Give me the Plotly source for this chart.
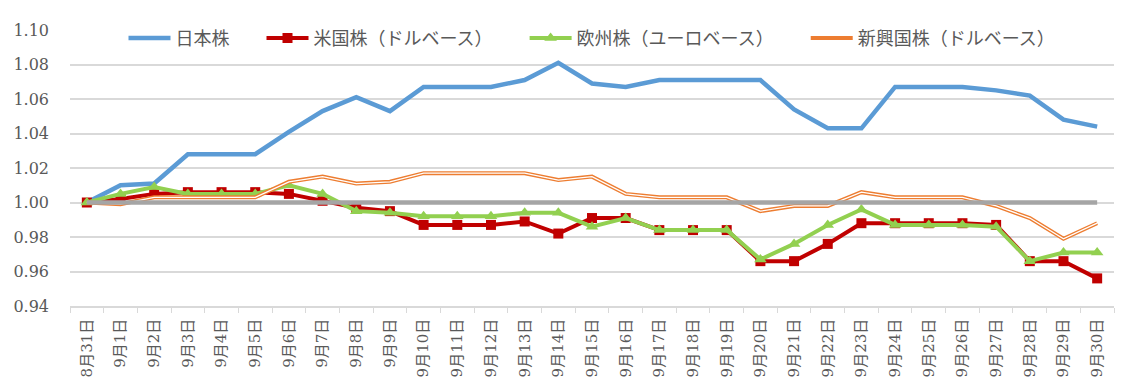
import plotly.graph_objects as go

dates = ["8月31日"] + [f"9月{d}日" for d in range(1, 31)]

japan = [1.000, 1.010, 1.011, 1.028, 1.028, 1.028, 1.041, 1.053, 1.061, 1.053,
         1.067, 1.067, 1.067, 1.071, 1.081, 1.069, 1.067, 1.071, 1.071, 1.071,
         1.071, 1.054, 1.043, 1.043, 1.067, 1.067, 1.067, 1.065, 1.062, 1.048, 1.044]
us = [1.000, 1.002, 1.005, 1.006, 1.006, 1.006, 1.005, 1.001, 0.997, 0.995,
      0.987, 0.987, 0.987, 0.989, 0.982, 0.991, 0.991, 0.984, 0.984, 0.984,
      0.966, 0.966, 0.976, 0.988, 0.988, 0.988, 0.988, 0.987, 0.966, 0.966, 0.956]
europe = [1.000, 1.005, 1.009, 1.005, 1.005, 1.005, 1.010, 1.005, 0.995, 0.994,
          0.992, 0.992, 0.992, 0.994, 0.994, 0.986, 0.991, 0.984, 0.984, 0.984,
          0.967, 0.976, 0.987, 0.996, 0.987, 0.987, 0.987, 0.986, 0.966, 0.971, 0.971]
emerging = [1.000, 0.999, 1.003, 1.003, 1.003, 1.003, 1.012, 1.015, 1.011, 1.012,
            1.017, 1.017, 1.017, 1.017, 1.013, 1.015, 1.005, 1.003, 1.003, 1.003,
            0.995, 0.998, 0.998, 1.006, 1.003, 1.003, 1.003, 0.998, 0.991, 0.979, 0.988]
baseline = [1.000] * len(dates)

names = ["日本株", "米国株（ドルベース）", "欧州株（ユーロベース）", "新興国株（ドルベース）"]
pad = ["\u3000\u2002", "\u3000\u3000", "\u3000\u3000", ""]

fig = go.Figure()
fig.add_trace(go.Scatter(x=dates, y=japan, name=names[0] + pad[0], mode="lines",
                         line=dict(color="#5B9BD5", width=4.5)))
fig.add_trace(go.Scatter(x=dates, y=us, name=names[1] + pad[1], mode="lines+markers",
                         line=dict(color="#C00000", width=4),
                         marker=dict(symbol="square", size=10, color="#C00000")))
fig.add_trace(go.Scatter(x=dates, y=europe, name=names[2] + pad[2], mode="lines+markers",
                         line=dict(color="#92D050", width=4),
                         marker=dict(symbol="triangle-up", size=11, color="#92D050")))
fig.add_trace(go.Scatter(x=dates, y=emerging, name=names[3] + pad[3], mode="lines",
                         legendgroup="em",
                         line=dict(color="#ED7D31", width=4)))
fig.add_trace(go.Scatter(x=dates, y=emerging, name=names[3], mode="lines",
                         legendgroup="em", showlegend=False, hoverinfo="skip",
                         line=dict(color="white", width=1.3)))
fig.add_trace(go.Scatter(x=dates, y=baseline, name="基準", mode="lines",
                         showlegend=False,
                         line=dict(color="#A5A5A5", width=4.5)))

fig.update_layout(
    width=1130, height=383,
    margin=dict(l=62, r=24, t=15, b=85),
    plot_bgcolor="white", paper_bgcolor="white",
    font=dict(family="'DejaVu Serif', 'Noto Sans CJK JP'", color="#595959"),
    showlegend=True,
    legend=dict(orientation="h", x=0.5, xanchor="center", y=0.97, yanchor="middle",
                bgcolor="rgba(0,0,0,0)", itemwidth=42,
                font=dict(family="Noto Sans CJK JP", size=18, color="#595959")),
)
fig.update_yaxes(range=[0.94, 1.10], dtick=0.02, tickformat=".2f",
                 showgrid=True, gridcolor="#D9D9D9", gridwidth=1.5,
                 zeroline=False, showline=False, automargin=False,
                 tickfont=dict(size=16, family="'DejaVu Serif', serif"),
                 ticklabelstandoff=20)
fig.update_xaxes(type="category", range=[-0.5, len(dates) - 0.5],
                 tickangle=-90, showgrid=False, automargin=False,
                 showline=True, linecolor="#D9D9D9", linewidth=1.5,
                 ticks="outside", tickson="boundaries", ticklen=5, tickcolor="#D9D9D9",
                 tickfont=dict(size=15, family="'DejaVu Serif', 'Noto Sans CJK JP'"),
                 ticklabelstandoff=5)

fig.write_html("out.html")
